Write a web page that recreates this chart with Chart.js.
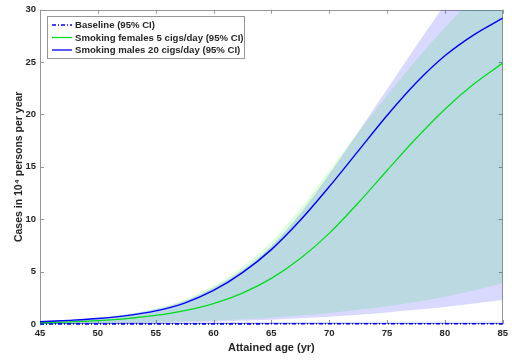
<!DOCTYPE html>
<html><head><meta charset="utf-8">
<script src="https://cdn.jsdelivr.net/npm/chart.js@4/dist/chart.umd.min.js"></script>
<style>html,body{margin:0;padding:0;background:#fff}#wrap{width:512px;height:361px}</style>
</head><body><div id="wrap"><canvas id="c" width="512" height="361"></canvas></div>
<script>
// ---- data ----
const ages = [45,47.5,50,52.5,55,57.5,60,62.5,65,67.5,70,72.5,75,77.5,80,82.5,85];
const maleSmoking20 = [0.22,0.35,0.52,0.80,1.25,2.0,3.2,4.9,7.1,9.9,13.1,16.5,19.9,23.0,25.6,27.6,29.2];
const maleUpper = [0.25,0.38,0.58,0.90,1.40,2.2,3.45,5.15,7.45,10.55,14.3,18.3,22.4,26.5,30.5,34.3,37.9];
const maleLower = [0.02,0.03,0.05,0.08,0.12,0.17,0.22,0.30,0.40,0.54,0.70,0.88,1.10,1.35,1.62,1.95,2.30];
const femaleSmoking5 = [0.12,0.20,0.33,0.52,0.82,1.28,1.95,2.95,4.35,6.25,8.65,11.55,14.65,17.7,20.5,22.9,24.9];
const femaleUpper = [0.25,0.40,0.62,0.96,1.48,2.35,3.65,5.45,7.85,11.0,14.6,18.3,21.8,25.2,28.3,31.2,33.9];
const femaleLower = [0.02,0.04,0.07,0.11,0.17,0.24,0.33,0.45,0.60,0.80,1.05,1.35,1.70,2.10,2.60,3.20,3.90];
const baseline = [0.01,0.01,0.01,0.01,0.01,0.01,0.01,0.01,0.02,0.02,0.02,0.02,0.02,0.02,0.02,0.03,0.03];
const baselineUpper = [0.15,0.15,0.16,0.16,0.17,0.17,0.18,0.18,0.19,0.19,0.2,0.2,0.21,0.21,0.22,0.22,0.23];
const baselineLower = [0,0,0,0,0,0,0,0,0,0,0,0,0,0,0,0,0];
const legendLabels = ['Baseline (95% CI)','Smoking females 5 cigs/day (95% CI)','Smoking males 20 cigs/day (95% CI)'];
const xTickValues = [45,50,55,60,65,70,75,80,85];
const yTickValues = [0,5,10,15,20,25,30];
const xTitle = 'Attained age (yr)';
const yTitle = 'Cases in 10\u2074 persons per year';

const pts = arr => ages.map((a,i)=>({x:a,y:arr[i]}));
const BLUE='rgb(0,0,255)', GREEN='rgb(0,220,30)';
const TXT='#262626', AXC='rgb(150,150,150)';
const FONT='"Liberation Sans", Arial, sans-serif';

const band = (data, fill, bg) => ({data: pts(data), fill: fill, backgroundColor: bg || 'transparent',
  borderColor:'transparent', borderWidth:0, pointRadius:0, cubicInterpolationMode:'monotone'});

const frame = {
  id:'frame',
  beforeDatasetsDraw(chart){
    const {ctx, chartArea:a, scales:{x, y}} = chart;
    ctx.save();
    ctx.strokeStyle = AXC; ctx.lineWidth = 1;
    ctx.strokeRect(Math.round(a.left)+0.5, Math.round(a.top)+0.5, Math.round(a.right-a.left)-1, Math.round(a.bottom-a.top)-1);
    ctx.beginPath();
    xTickValues.forEach(v=>{ const px=Math.round(x.getPixelForValue(v))+0.5;
      ctx.moveTo(px,a.bottom); ctx.lineTo(px,a.bottom-4); ctx.moveTo(px,a.top); ctx.lineTo(px,a.top+4); });
    yTickValues.forEach(v=>{ const py=Math.round(y.getPixelForValue(v))+0.5;
      ctx.moveTo(a.left,py); ctx.lineTo(a.left+4,py); ctx.moveTo(a.right,py); ctx.lineTo(a.right-4,py); });
    ctx.stroke();
    ctx.restore();
  }
};

const legendBox = {
  id:'legendBox',
  afterDraw(chart){
    const {ctx, chartArea:a} = chart;
    const left = Math.round(a.left)+7.5, top = Math.round(a.top)+6.5, w = 197, h = 42;
    ctx.save();
    ctx.fillStyle='#fff'; ctx.fillRect(left, top, w, h);
    ctx.strokeStyle=AXC; ctx.lineWidth=1; ctx.strokeRect(left, top, w, h);
    const items = [{c:BLUE, dash:[4,2,1,2]},{c:GREEN, dash:[]},{c:BLUE, dash:[]}];
    ctx.font = 'bold 9.6px '+FONT; ctx.textBaseline='middle'; ctx.textAlign='left';
    items.forEach((it,i)=>{
      const yy = top + 8.5 + i*12.5;
      ctx.beginPath(); ctx.setLineDash(it.dash); ctx.strokeStyle=it.c; ctx.lineWidth=1.3;
      ctx.moveTo(left+4.5, yy); ctx.lineTo(left+24.5, yy); ctx.stroke();
      ctx.setLineDash([]);
      ctx.fillStyle=TXT; ctx.fillText(legendLabels[i], left+27.5, yy+0.5);
    });
    ctx.restore();
  }
};

new Chart(document.getElementById('c'), {
  type:'line',
  data:{datasets:[
    {label:legendLabels[2], data:pts(maleSmoking20), borderColor:BLUE, borderWidth:1.4, pointRadius:0, fill:false, cubicInterpolationMode:'monotone'},
    {label:legendLabels[1], data:pts(femaleSmoking5), borderColor:GREEN, borderWidth:1.3, pointRadius:0, fill:false, cubicInterpolationMode:'monotone'},
    {label:legendLabels[0], data:pts(baseline), borderColor:BLUE, borderWidth:1.6, borderDash:[4,2,1,2], pointRadius:0, fill:false, clip:3},
    band(maleUpper,'+1','rgba(0,0,255,0.15)'),
    band(maleLower,false),
    band(femaleUpper,'+1','rgba(0,255,0,0.14)'),
    band(femaleLower,false),
    band(baselineUpper,'+1','rgba(0,0,255,0.12)'),
    band(baselineLower,false)
  ]},
  options:{
    responsive:false, devicePixelRatio:1, animation:false,
    layout:{padding:{top:9,right:9,left:0,bottom:0}},
    plugins:{legend:{display:false}, tooltip:{enabled:false}},
    scales:{
      x:{type:'linear', min:45, max:85,
        afterBuildTicks:s=>{s.ticks = xTickValues.map(v=>({value:v}));},
        afterFit:s=>{s.height=37;},
        grid:{display:false, drawTicks:false}, border:{display:false},
        ticks:{font:{family:FONT,size:9.5,weight:'bold'}, color:TXT, padding:4, maxRotation:0, autoSkip:false},
        title:{display:true, text:xTitle, color:TXT, font:{family:FONT,size:11,weight:'bold'}, padding:{top:0,bottom:6}}
      },
      y:{min:0, max:30,
        afterBuildTicks:s=>{s.ticks = yTickValues.map(v=>({value:v}));},
        afterFit:s=>{s.width=40;},
        grid:{display:false, drawTicks:false}, border:{display:false},
        ticks:{font:{family:FONT,size:9.5,weight:'bold'}, color:TXT, padding:4},
        title:{display:true, text:yTitle, color:TXT, font:{family:FONT,size:10.5,weight:'bold'}, padding:{top:13,bottom:0}}
      }
    }
  },
  plugins:[frame, legendBox]
});
</script></body></html>
